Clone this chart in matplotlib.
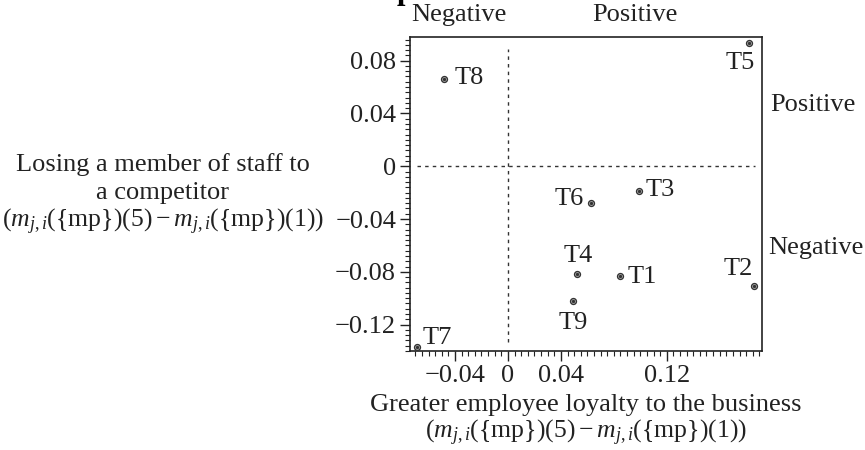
import matplotlib
matplotlib.use("Agg")
import matplotlib.pyplot as plt
from matplotlib.ticker import MultipleLocator, FuncFormatter

plt.rcParams["font.family"] = ["Liberation Serif", "DejaVu Serif"]
plt.rcParams["mathtext.fontset"] = "custom"
plt.rcParams["mathtext.rm"] = "Liberation Serif"
plt.rcParams["mathtext.it"] = "Liberation Serif:italic"

# data
names = ["T1", "T2", "T3", "T4", "T5", "T6", "T7", "T8", "T9"]
loyalty = [0.085, 0.186, 0.099, 0.052, 0.182, 0.063, -0.069, -0.048, 0.049]
staff_loss = [-0.083, -0.091, -0.019, -0.082, 0.093, -0.028, -0.137, 0.066, -0.102]

# label offsets in pixels (dx, dy) and alignment
label_pos = {
    "T1": ((7, -1), "left", "center"),
    "T2": ((-16, 17), "center", "center"),
    "T3": ((7, 1), "left", "center"),
    "T4": ((1, 18), "center", "center"),
    "T5": ((-9, -20), "center", "center"),
    "T6": ((-8, 4), "right", "center"),
    "T7": ((6, 9), "left", "center"),
    "T8": ((10, 1), "left", "center"),
    "T9": ((0, -22), "center", "center"),
}

fs = 19
fs_math = 18.5
col = "#222222"
fig = plt.figure(figsize=(8.65, 4.5), dpi=100)
ax = fig.add_axes([0.474, 0.22, 0.407, 0.698])

ax.scatter(loyalty, staff_loss, s=18, facecolor="#d0d0d0", edgecolor="#333333",
           linewidth=1.0, zorder=3)
ax.scatter(loyalty, staff_loss, s=2, color="#333333", zorder=4)

for n, x, y in zip(names, loyalty, staff_loss):
    (dx, dy), ha, va = label_pos[n]
    ax.annotate(n, (x, y), xytext=(dx, dy), textcoords="offset pixels",
                ha=ha, va=va, fontsize=fs, color=col)

ax.axvline(0, ymin=0.03, ymax=0.96, color="#333333", ls=(0, (2.5, 3)), lw=1.0)
ax.axhline(0, xmin=0.02, xmax=0.98, color="#333333", ls=(0, (2.5, 3)), lw=1.0)

ax.set_xlim(-0.074, 0.192)
ax.set_ylim(-0.140, 0.098)

ax.set_xticks([-0.04, 0, 0.04, 0.12])
ax.set_yticks([-0.12, -0.08, -0.04, 0, 0.04, 0.08])
ax.xaxis.set_minor_locator(MultipleLocator(0.005))
ax.yaxis.set_minor_locator(MultipleLocator(0.004))


def fmt(v, pos):
    if abs(v) < 1e-9:
        return "0"
    s = f"{v:.2f}"
    return s.replace("-", "\u2212")


ax.xaxis.set_major_formatter(FuncFormatter(fmt))
ax.yaxis.set_major_formatter(FuncFormatter(fmt))
ax.tick_params(which="major", direction="out", length=7, width=1.0,
               labelsize=fs, colors=col, pad=3)
ax.tick_params(which="minor", direction="out", length=3.5, width=0.8,
               colors=col)
ax.tick_params(top=False, right=False, which="both")
for sp in ax.spines.values():
    sp.set_linewidth(1.2)
    sp.set_color(col)

# bit of a bold title that is cut off at the top edge
fig.text(397 / 865, 1 + 1 / 450, "p", ha="left", va="baseline",
         fontsize=22, fontweight="bold", color="black")

# quadrant labels
fig.text(459 / 865, 1 - 15 / 450, "Negative", ha="center", va="center", fontsize=fs, color=col)
fig.text(635 / 865, 1 - 15 / 450, "Positive", ha="center", va="center", fontsize=fs, color=col)
fig.text(770 / 865, 1 - 105 / 450, "Positive", ha="left", va="center", fontsize=fs, color=col)
fig.text(768 / 865, 1 - 248 / 450, "Negative", ha="left", va="center", fontsize=fs, color=col)

# axis labels
ylab = ["Losing a member of staff to", "a competitor",
        r"$(m_{j,i}(\{\mathrm{mp}\})(5) - m_{j,i}(\{\mathrm{mp}\})(1))$"]
ylab_y = [165, 193, 222]
for i, (line, yy) in enumerate(zip(ylab, ylab_y)):
    fig.text(163 / 865, 1 - yy / 450, line, ha="center", va="center",
             fontsize=fs_math if i == 2 else fs, color=col)

xlab = ["Greater employee loyalty to the business",
        r"$(m_{j,i}(\{\mathrm{mp}\})(5) - m_{j,i}(\{\mathrm{mp}\})(1))$"]
xlab_y = [405, 433]
for i, (line, yy) in enumerate(zip(xlab, xlab_y)):
    fig.text(586 / 865, 1 - yy / 450, line, ha="center", va="center",
             fontsize=fs_math if i == 1 else fs, color=col)

fig.savefig("out.png", dpi=100)
